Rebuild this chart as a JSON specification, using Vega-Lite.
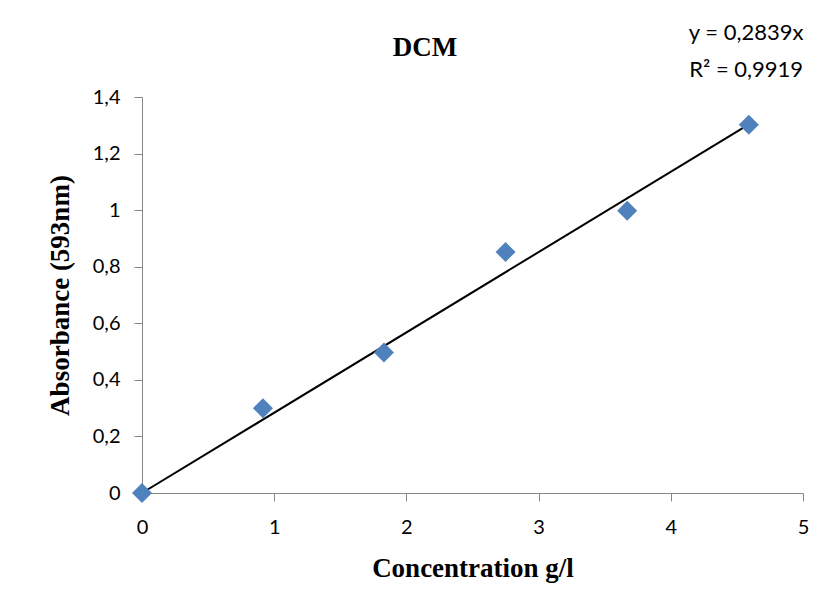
{
  "$schema": "https://vega.github.io/schema/vega-lite/v6.json",
  "autosize": {"type": "none"},
  "width": 661,
  "height": 396,
  "padding": {"left": 142, "top": 97, "right": 26, "bottom": 118},
  "background": "white",
  "config": {"view": {"stroke": null}},
  "datasets": {
    "pts": [
      {"conc": 0, "abs": 0},
      {"conc": 0.915, "abs": 0.30},
      {"conc": 1.83, "abs": 0.497},
      {"conc": 2.75, "abs": 0.852},
      {"conc": 3.67, "abs": 0.998},
      {"conc": 4.59, "abs": 1.302}
    ],
    "trend": [
      {"conc": 0, "abs": 0},
      {"conc": 4.59, "abs": 1.303}
    ],
    "eq": [
      {"label": "y = 0,2839x", "conc": 4.57, "abs": 1.626},
      {"label": "R² = 0,9919", "conc": 4.57, "abs": 1.495}
    ],
    "ttl": [
      {"label": "DCM", "conc": 2.14, "abs": 1.573}
    ]
  },
  "layer": [
    {
      "data": {"name": "trend"},
      "mark": {"type": "line", "color": "black", "strokeWidth": 2},
      "encoding": {
        "x": {"field": "conc", "type": "quantitative", "scale": {"domain": [0, 5]},
          "axis": {"title": "Concentration g/l", "values": [0,1,2,3,4,5], "format": "d", "labelFlush": false, "grid": false, "domainColor": "#868686", "tickColor": "#868686", "tickSize": 8, "labelFont": "Lato", "labelFontSize": 20, "labelColor": "black", "labelPadding": 16, "titleFont": "Liberation Serif", "titleFontSize": 27, "titleFontWeight": "bold", "titleColor": "black", "titlePadding": 18}},
        "y": {"field": "abs", "type": "quantitative", "scale": {"domain": [0, 1.4]},
          "axis": {"title": "Absorbance (593nm)", "values": [0,0.2,0.4,0.6,0.8,1,1.2,1.4], "format": ",.1~f", "labelExpr": "replace(datum.label, '.', ',')", "labelFlush": false, "grid": false, "domainColor": "#868686", "tickColor": "#868686", "tickSize": 8, "labelFont": "Lato", "labelFontSize": 20, "labelColor": "black", "labelPadding": 14, "titleFont": "Liberation Serif", "titleFontSize": 27, "titleFontWeight": "bold", "titleColor": "black", "titlePadding": 18}}
      }
    },
    {
      "data": {"name": "pts"},
      "mark": {"type": "point", "shape": "diamond", "filled": true, "color": "#4F81BD", "size": 400, "opacity": 1, "clip": false},
      "encoding": {
        "x": {"field": "conc", "type": "quantitative"},
        "y": {"field": "abs", "type": "quantitative"}
      }
    },
    {
      "data": {"name": "eq"},
      "mark": {"type": "text", "font": "Lato", "fontSize": 22, "color": "black", "align": "center", "baseline": "middle", "clip": false},
      "encoding": {
        "x": {"field": "conc", "type": "quantitative"},
        "y": {"field": "abs", "type": "quantitative"},
        "text": {"field": "label"}
      }
    },
    {
      "data": {"name": "ttl"},
      "mark": {"type": "text", "font": "Liberation Serif", "fontSize": 27, "fontWeight": "bold", "color": "black", "align": "center", "baseline": "middle", "clip": false},
      "encoding": {
        "x": {"field": "conc", "type": "quantitative"},
        "y": {"field": "abs", "type": "quantitative"},
        "text": {"field": "label"}
      }
    }
  ]
}
